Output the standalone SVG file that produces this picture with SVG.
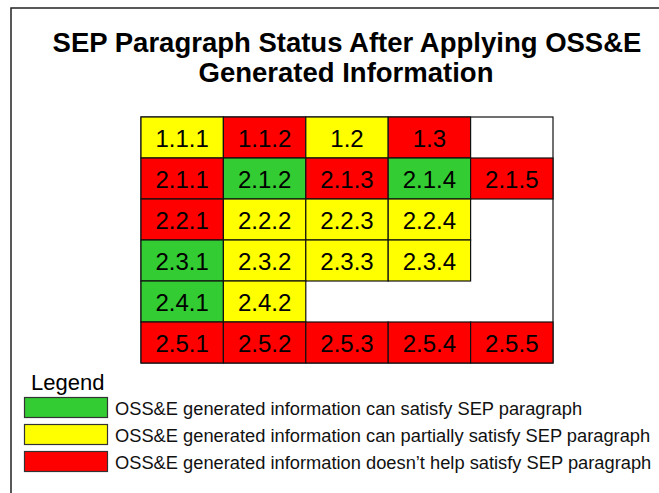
<svg xmlns="http://www.w3.org/2000/svg" width="659" height="493" viewBox="0 0 659 493">
<style>
.bg{fill:#fff}
.frame{fill:none;stroke:#222;stroke-width:1.5}
.title{font-family:"Liberation Sans",Arial,sans-serif;font-weight:bold;font-size:27.5px;fill:#000;text-anchor:middle}
.cell{stroke:#111;stroke-width:1.2}
.g{fill:#33CC33}.y{fill:#FFFF00}.r{fill:#FF0000}
.ct{font-family:"Liberation Sans",Arial,sans-serif;font-size:24px;fill:#000;text-anchor:middle}
.grid{fill:#fff;stroke:#111;stroke-width:1.2}
.lg{font-family:"Liberation Sans",Arial,sans-serif;font-size:22px;fill:#000}
.lt{font-family:"Liberation Sans",Arial,sans-serif;font-size:18.3px;fill:#111}
.sw{stroke:#333;stroke-width:1.2}
</style>
<rect class="bg" x="0" y="0" width="659" height="493"/>
<path class="frame" d="M11,493 V8 H659"/>
<g id="title">
<text class="title" x="347" y="52">SEP Paragraph Status After Applying OSS&amp;E</text>
<text class="title" x="346" y="82">Generated Information</text>
</g>
<rect class="grid" x="141" y="117" width="412" height="246"/>
<g id="c111"><rect class="cell y" x="141" y="117" width="82.4" height="41"/><text class="ct" x="182.2" y="146.5">1.1.1</text></g>
<g id="c112"><rect class="cell r" x="223.4" y="117" width="82.4" height="41"/><text class="ct" x="264.6" y="146.5">1.1.2</text></g>
<g id="c12"><rect class="cell y" x="305.8" y="117" width="82.4" height="41"/><text class="ct" x="347" y="146.5">1.2</text></g>
<g id="c13"><rect class="cell r" x="388.2" y="117" width="82.4" height="41"/><text class="ct" x="429.4" y="146.5">1.3</text></g>
<g id="c211"><rect class="cell r" x="141" y="158" width="82.4" height="41"/><text class="ct" x="182.2" y="187.5">2.1.1</text></g>
<g id="c212"><rect class="cell g" x="223.4" y="158" width="82.4" height="41"/><text class="ct" x="264.6" y="187.5">2.1.2</text></g>
<g id="c213"><rect class="cell r" x="305.8" y="158" width="82.4" height="41"/><text class="ct" x="347" y="187.5">2.1.3</text></g>
<g id="c214"><rect class="cell g" x="388.2" y="158" width="82.4" height="41"/><text class="ct" x="429.4" y="187.5">2.1.4</text></g>
<g id="c215"><rect class="cell r" x="470.6" y="158" width="82.4" height="41"/><text class="ct" x="511.8" y="187.5">2.1.5</text></g>
<g id="c221"><rect class="cell r" x="141" y="199" width="82.4" height="41"/><text class="ct" x="182.2" y="228.5">2.2.1</text></g>
<g id="c222"><rect class="cell y" x="223.4" y="199" width="82.4" height="41"/><text class="ct" x="264.6" y="228.5">2.2.2</text></g>
<g id="c223"><rect class="cell y" x="305.8" y="199" width="82.4" height="41"/><text class="ct" x="347" y="228.5">2.2.3</text></g>
<g id="c224"><rect class="cell y" x="388.2" y="199" width="82.4" height="41"/><text class="ct" x="429.4" y="228.5">2.2.4</text></g>
<g id="c231"><rect class="cell g" x="141" y="240" width="82.4" height="41"/><text class="ct" x="182.2" y="269.5">2.3.1</text></g>
<g id="c232"><rect class="cell y" x="223.4" y="240" width="82.4" height="41"/><text class="ct" x="264.6" y="269.5">2.3.2</text></g>
<g id="c233"><rect class="cell y" x="305.8" y="240" width="82.4" height="41"/><text class="ct" x="347" y="269.5">2.3.3</text></g>
<g id="c234"><rect class="cell y" x="388.2" y="240" width="82.4" height="41"/><text class="ct" x="429.4" y="269.5">2.3.4</text></g>
<g id="c241"><rect class="cell g" x="141" y="281" width="82.4" height="41"/><text class="ct" x="182.2" y="310.5">2.4.1</text></g>
<g id="c242"><rect class="cell y" x="223.4" y="281" width="82.4" height="41"/><text class="ct" x="264.6" y="310.5">2.4.2</text></g>
<g id="c251"><rect class="cell r" x="141" y="322" width="82.4" height="41"/><text class="ct" x="182.2" y="351.5">2.5.1</text></g>
<g id="c252"><rect class="cell r" x="223.4" y="322" width="82.4" height="41"/><text class="ct" x="264.6" y="351.5">2.5.2</text></g>
<g id="c253"><rect class="cell r" x="305.8" y="322" width="82.4" height="41"/><text class="ct" x="347" y="351.5">2.5.3</text></g>
<g id="c254"><rect class="cell r" x="388.2" y="322" width="82.4" height="41"/><text class="ct" x="429.4" y="351.5">2.5.4</text></g>
<g id="c255"><rect class="cell r" x="470.6" y="322" width="82.4" height="41"/><text class="ct" x="511.8" y="351.5">2.5.5</text></g>
<g id="legend">
<text class="lg" x="31" y="390">Legend</text>
<rect class="sw g" x="24.5" y="397.5" width="83" height="20"/>
<text class="lt" x="115" y="415">OSS&amp;E generated information can satisfy SEP paragraph</text>
<rect class="sw y" x="24.5" y="424.5" width="83" height="20"/>
<text class="lt" x="115" y="442">OSS&amp;E generated information can partially satisfy SEP paragraph</text>
<rect class="sw r" x="24.5" y="451.5" width="83" height="20"/>
<text class="lt" x="115" y="469">OSS&amp;E generated information doesn’t help satisfy SEP paragraph</text>
</g>
</svg>
